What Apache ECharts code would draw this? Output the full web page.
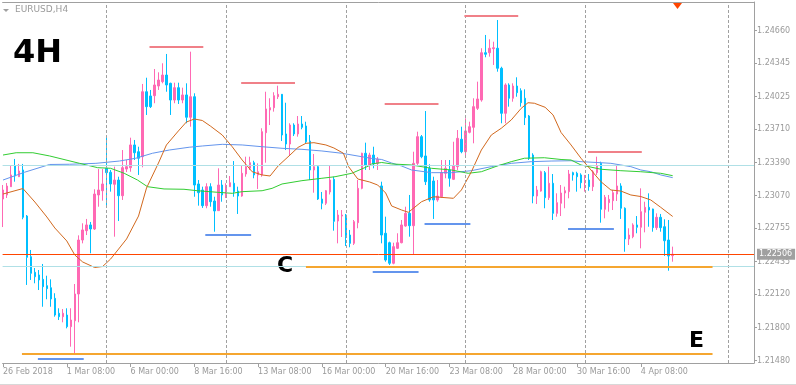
<!DOCTYPE html>
<html><head><meta charset="utf-8">
<script src="https://cdn.jsdelivr.net/npm/echarts@6/dist/echarts.min.js"></script>
<style>html,body{margin:0;padding:0;background:#fff;}#c{width:796px;height:385px;}</style>
</head><body><div id="c"></div>
<script>
// ---- data ----
const timeLabels = ['26 Feb 2018','1 Mar 08:00','6 Mar 00:00','8 Mar 16:00','13 Mar 08:00','16 Mar 00:00','20 Mar 16:00','23 Mar 08:00','28 Mar 00:00','30 Mar 16:00','4 Apr 08:00'];
const timeLabelBars = [0,16,32,48,64,80,96,112,128,144,160];
const priceTicks = [1.2148,1.218,1.2212,1.22435,1.22755,1.2307,1.2339,1.2371,1.24025,1.24345,1.2466];

const opens = [1.23038,1.23077,1.23157,1.23356,1.23253,1.23318,1.22874,1.22482,1.22332,1.22306,1.22264,1.22203,1.22183,1.22081,1.21937,1.21904,1.21920,1.21808,1.21865,1.22123,1.22643,1.22733,1.22788,1.22749,1.23077,1.23118,1.23334,1.23296,1.23180,1.23221,1.23070,1.23327,1.23340,1.23559,1.23494,1.23446,1.24072,1.24031,1.24034,1.24127,1.24169,1.24233,1.24153,1.23992,1.24111,1.23992,1.24041,1.23826,1.24024,1.23183,1.23125,1.22974,1.23157,1.23019,1.22926,1.23173,1.23067,1.23157,1.23190,1.23115,1.23067,1.23279,1.23334,1.23388,1.23270,1.23270,1.23677,1.23896,1.23918,1.24024,1.24047,1.23665,1.23568,1.23751,1.23665,1.23761,1.23742,1.23597,1.23318,1.23350,1.23038,1.22997,1.23106,1.23228,1.22826,1.22874,1.22884,1.22691,1.22611,1.22810,1.23141,1.23479,1.23366,1.23462,1.23382,1.23164,1.22708,1.22617,1.22419,1.22563,1.22617,1.22778,1.22900,1.22781,1.23382,1.23639,1.23453,1.23334,1.23212,1.23029,1.23060,1.23286,1.23318,1.23228,1.23350,1.23614,1.23494,1.23681,1.23729,1.23912,1.23992,1.24448,1.24448,1.24487,1.24491,1.24298,1.23864,1.24137,1.24009,1.24127,1.24082,1.24009,1.23838,1.23462,1.23067,1.23115,1.23292,1.23051,1.23190,1.22900,1.22997,1.23096,1.23109,1.23292,1.23286,1.23270,1.23195,1.23221,1.23157,1.23292,1.23382,1.22939,1.23003,1.23022,1.23086,1.23164,1.22949,1.22653,1.22675,1.22788,1.22766,1.22910,1.22958,1.22942,1.22762,1.22862,1.22771,1.22643,1.22492];
const closes = [1.23125,1.23163,1.23270,1.23260,1.23308,1.22862,1.22476,1.22322,1.22289,1.22258,1.22193,1.22174,1.22075,1.21920,1.21904,1.21937,1.21808,1.21872,1.22123,1.22643,1.22740,1.22788,1.22749,1.23086,1.23125,1.23183,1.23292,1.23183,1.23221,1.23070,1.23340,1.23350,1.23559,1.23484,1.23431,1.24072,1.23928,1.23928,1.24137,1.24185,1.24233,1.24137,1.23992,1.24111,1.23992,1.24041,1.23826,1.24024,1.23173,1.23099,1.22974,1.23157,1.23012,1.22923,1.23173,1.23077,1.23166,1.23195,1.23109,1.23067,1.23286,1.23350,1.23388,1.23270,1.23301,1.23687,1.23906,1.23918,1.24034,1.24047,1.23655,1.23568,1.23751,1.23665,1.23761,1.23729,1.23590,1.23318,1.23350,1.23038,1.22997,1.23118,1.23221,1.22823,1.22884,1.22884,1.22675,1.22611,1.22820,1.23141,1.23479,1.23366,1.23462,1.23376,1.23421,1.22691,1.22450,1.22419,1.22579,1.22617,1.22788,1.22900,1.22781,1.23382,1.23639,1.23446,1.23205,1.23029,1.23029,1.23067,1.23292,1.23334,1.23238,1.23359,1.23623,1.23494,1.23694,1.23735,1.23928,1.24002,1.24448,1.24433,1.24491,1.24496,1.24298,1.23864,1.24137,1.24009,1.24127,1.24063,1.23966,1.23822,1.23431,1.23067,1.23125,1.23301,1.23051,1.23190,1.22900,1.23003,1.23096,1.23118,1.23279,1.23270,1.23253,1.23195,1.23215,1.23157,1.23301,1.23356,1.22939,1.23055,1.23035,1.23099,1.23164,1.22949,1.22653,1.22691,1.22788,1.22766,1.22916,1.22958,1.22932,1.22762,1.22862,1.22762,1.22636,1.22489,1.22506];
const lows = [1.22768,1.23048,1.23154,1.23205,1.23250,1.22843,1.22210,1.22258,1.22226,1.22161,1.22000,1.22072,1.22000,1.21904,1.21872,1.21850,1.21792,1.21615,1.21550,1.21850,1.22611,1.22691,1.22515,1.22740,1.22964,1.23022,1.22980,1.23109,1.22675,1.22826,1.23029,1.23298,1.23301,1.23414,1.23270,1.23344,1.23848,1.23915,1.23961,1.24089,1.24153,1.24072,1.23848,1.23961,1.23954,1.23961,1.23768,1.23735,1.23060,1.22974,1.22952,1.22949,1.22964,1.22723,1.22923,1.23012,1.23048,1.23154,1.23060,1.22894,1.23060,1.23253,1.23318,1.23238,1.23135,1.23253,1.23388,1.23751,1.23880,1.24002,1.23597,1.23510,1.23462,1.23645,1.23639,1.23710,1.23575,1.23221,1.23099,1.23029,1.22939,1.22980,1.23082,1.22733,1.22611,1.22672,1.22585,1.22573,1.22595,1.22756,1.23132,1.23318,1.23318,1.23334,1.23318,1.22611,1.22434,1.22402,1.22409,1.22556,1.22611,1.22771,1.22675,1.22499,1.23366,1.23431,1.23173,1.23012,1.22846,1.23012,1.23051,1.23238,1.23157,1.23221,1.23318,1.23479,1.23462,1.23671,1.23575,1.23896,1.23976,1.24404,1.24410,1.24330,1.24265,1.23768,1.23768,1.23928,1.23976,1.24024,1.23928,1.23751,1.23414,1.22997,1.22990,1.23109,1.22949,1.23029,1.22836,1.22868,1.22874,1.22949,1.23045,1.23215,1.23109,1.23141,1.23109,1.23118,1.23115,1.23270,1.22810,1.22852,1.22916,1.22932,1.23019,1.22846,1.22530,1.22595,1.22660,1.22708,1.22563,1.22717,1.22771,1.22723,1.22740,1.22723,1.22489,1.22347,1.22434];
const highs = [1.23173,1.23192,1.23356,1.23424,1.23376,1.23376,1.22884,1.22547,1.22373,1.22354,1.22412,1.22299,1.22264,1.22130,1.21985,1.21978,1.21985,1.21985,1.22219,1.22688,1.22804,1.22846,1.22817,1.23132,1.23327,1.23327,1.23648,1.23318,1.23350,1.23253,1.23510,1.23414,1.23629,1.23607,1.23542,1.24147,1.24207,1.24089,1.24291,1.24259,1.24346,1.24436,1.24159,1.24159,1.24159,1.24111,1.24153,1.24458,1.24057,1.23221,1.23157,1.23190,1.23190,1.23060,1.23334,1.23221,1.23190,1.23260,1.23404,1.23157,1.23356,1.23446,1.23446,1.23407,1.23382,1.23720,1.24072,1.24009,1.24067,1.24130,1.24050,1.23966,1.23768,1.23768,1.23838,1.23838,1.23783,1.23655,1.23472,1.23356,1.23106,1.23125,1.23356,1.23253,1.22932,1.22932,1.22894,1.22740,1.22836,1.23221,1.23484,1.23581,1.23484,1.23542,1.23443,1.23205,1.22868,1.22627,1.22617,1.22708,1.22836,1.22964,1.23077,1.23494,1.23687,1.23655,1.23886,1.23373,1.23253,1.23221,1.23414,1.23414,1.23414,1.23590,1.23703,1.23735,1.23816,1.23783,1.24009,1.24169,1.24491,1.24619,1.24577,1.24554,1.24763,1.24313,1.24153,1.24153,1.24153,1.24211,1.24105,1.24095,1.23848,1.23479,1.23164,1.23311,1.23308,1.23350,1.23279,1.23093,1.23173,1.23157,1.23318,1.23301,1.23301,1.23286,1.23270,1.23279,1.23318,1.23446,1.23398,1.23077,1.23077,1.23125,1.23359,1.23190,1.22958,1.22756,1.22804,1.22874,1.23141,1.23012,1.23093,1.22945,1.22900,1.22894,1.22843,1.22836,1.22579];

// moving averages, [bar, price]
const maOrange = [[0,1.23086],[5,1.23139],[8,1.23009],[11,1.22865],[13,1.22759],[16,1.22634],[18,1.22499],[20,1.22431],[23,1.22378],[25,1.22388],[27,1.22460],[29,1.22556],[31,1.22653],[34,1.22874],[36,1.23144],[39,1.23385],[41,1.23559],[44,1.23694],[46,1.23780],[48,1.23809],[50,1.23795],[52,1.23742],[55,1.23655],[57.5,1.23542],[60,1.23414],[62.5,1.23301],[65,1.23270],[67,1.23260],[69,1.23356],[72,1.23462],[74,1.23535],[76,1.23575],[78,1.23581],[81,1.23559],[83,1.23530],[85.4,1.23479],[86.7,1.23350],[89,1.23231],[92,1.23202],[94,1.23173],[96,1.23096],[97.5,1.22971],[100,1.22932],[101.7,1.22910],[105,1.23012],[108,1.23060],[113,1.23045],[115,1.23125],[117.5,1.23301],[120,1.23510],[122.5,1.23655],[125,1.23720],[127.5,1.23800],[130,1.23912],[131.7,1.23966],[133.3,1.23961],[136,1.23922],[138,1.23848],[140,1.23679],[142.5,1.23559],[145,1.23431],[147.5,1.23318],[150,1.23205],[152.5,1.23125],[155,1.23115],[157.5,1.23077],[160,1.23062],[162.5,1.23029],[165,1.22958],[168,1.22870]];
const maBlue = [[0,1.23221],[5.4,1.23296],[11.7,1.23371],[16.7,1.23373],[23.3,1.23382],[29.2,1.23404],[33.3,1.23431],[37.5,1.23479],[41.7,1.23510],[46.7,1.23537],[50,1.23549],[55,1.23565],[60,1.23559],[65,1.23542],[70,1.23527],[75,1.23517],[80,1.23501],[85,1.23479],[90,1.23446],[92.5,1.23429],[95,1.23419],[97.5,1.23385],[100,1.23356],[102.5,1.23318],[107.5,1.23292],[112.5,1.23292],[117.5,1.23311],[122.5,1.23350],[127.5,1.23382],[132.5,1.23398],[137.5,1.23404],[142.5,1.23407],[145,1.23398],[150,1.23388],[152.5,1.23382],[155,1.23366],[157.5,1.23350],[160,1.23318],[162.5,1.23301],[165,1.23270],[168,1.23244]];
const maGreen = [[0,1.23462],[3.3,1.23484],[7.5,1.23484],[11.7,1.23453],[19.2,1.23382],[23.75,1.23340],[27,1.23334],[30.4,1.23286],[33.75,1.23221],[36.25,1.23157],[40.4,1.23135],[45.4,1.23132],[48.75,1.23118],[53.75,1.23103],[57.5,1.23093],[60,1.23109],[65,1.23118],[67.5,1.23141],[70,1.23183],[75,1.23215],[80,1.23238],[83.3,1.23253],[87.5,1.23286],[91.7,1.23356],[92.5,1.23376],[95,1.23390],[97.5,1.23376],[102.5,1.23366],[107.5,1.23334],[112.5,1.23318],[116.7,1.23286],[120,1.23301],[124.2,1.23359],[127.5,1.23398],[130.8,1.23431],[135.8,1.23436],[140,1.23419],[142.5,1.23414],[145,1.23366],[150,1.23325],[155,1.23311],[160,1.23301],[165,1.23286],[168,1.23263]];

// annotations: [fromBar, toBar, price]
const resistances = [[36.75,50.25,1.24506],[59.75,73.25,1.24159],[95.75,109.25,1.23957],[115.75,129.25,1.24805],[146.75,160.25,1.23491]];
const supports = [[8.75,20.25,1.21499],[50.75,62.25,1.22694],[92.75,104.25,1.22338],[105.75,117.25,1.22800],[141.75,153.25,1.22752]];
const levelC = [76, 178, 1.22386];
const levelE = [4.75, 178, 1.21547];
const hLevels = [1.23366, 1.22390];
const bidPrice = 1.22506;
const gridBars = [26, 56, 86, 116, 146, 182];

// ---- chart ----
const XMIN = -0.1, XMAX = 188.4, YMIN = 1.214578, YMAX = 1.249367;
const gray = '#a0a0a0';
const candles = opens.map((o, i) => [i, o, closes[i], lows[i], highs[i]]);
const seg = (arr) => arr.map(s => [{coord: [s[0], s[2]]}, {coord: [s[1], s[2]]}]);
const ml = (extra) => Object.assign({silent: true, symbol: ['none','none'], precision: 5, label: {show: false}, animation: false}, extra);

const chart = echarts.init(document.getElementById('c'), null, {renderer: 'canvas'});
chart.setOption({
  animation: false,
  backgroundColor: '#ffffff',
  grid: {left: 0, right: 42, top: 2, bottom: 22},
  xAxis: [{
    type: 'value', min: XMIN, max: XMAX, position: 'bottom',
    axisLine: {show: true, onZero: false, lineStyle: {color: gray, width: 1}},
    axisTick: {show: true, customValues: timeLabelBars, length: 4, lineStyle: {color: gray}},
    axisLabel: {customValues: timeLabelBars, formatter: v => timeLabels[timeLabelBars.indexOf(v)] || '',
      align: 'left', color: '#9a9a9a', fontSize: 8, fontFamily: 'DejaVu Sans', margin: 5},
    splitLine: {show: false}
  }, {
    type: 'value', min: XMIN, max: XMAX, position: 'top',
    axisLine: {show: true, onZero: false, lineStyle: {color: gray, width: 1}},
    axisTick: {show: false}, axisLabel: {show: false}, splitLine: {show: false}
  }],
  yAxis: {
    type: 'value', min: YMIN, max: YMAX, position: 'right',
    axisLine: {show: true, onZero: false, lineStyle: {color: gray, width: 1}},
    axisTick: {show: true, customValues: priceTicks, length: 3, lineStyle: {color: gray}},
    axisLabel: {customValues: priceTicks, formatter: v => v.toFixed(5), color: '#9a9a9a',
      fontSize: 8, fontFamily: 'DejaVu Sans', margin: 3},
    splitLine: {show: false}
  },
  series: [
    { type: 'line', data: [], z: 1, silent: true,
      markLine: ml({lineStyle: {color: gray, type: [3, 2], width: 1}, data: gridBars.map(b => ({xAxis: b}))}) },
    { type: 'line', data: [], z: 1, silent: true,
      markLine: ml({lineStyle: {color: '#b0e0e6', type: 'solid', width: 1}, data: hLevels.map(p => ({yAxis: p}))}) },
    { type: 'candlestick', data: candles, barWidth: 2, z: 3,
      itemStyle: {color: '#ff69b4', color0: '#00bfff', borderColor: '#ff69b4', borderColor0: '#00bfff', borderWidth: 1} },
    { type: 'line', data: maBlue, showSymbol: false, z: 4, lineStyle: {color: '#6495ed', width: 1} },
    { type: 'line', data: maGreen, showSymbol: false, z: 4, lineStyle: {color: '#32cd32', width: 1} },
    { type: 'line', data: maOrange, showSymbol: false, z: 4, lineStyle: {color: '#d2691e', width: 1} },
    { type: 'line', data: [], z: 5, silent: true,
      markLine: ml({lineStyle: {color: '#ff4500', type: 'solid', width: 1},
        data: [{yAxis: bidPrice, label: {show: true, position: 'end', distance: 3, formatter: bidPrice.toFixed(5),
          backgroundColor: '#a0a0a0', color: '#ffffff', fontSize: 8, fontFamily: 'DejaVu Sans', padding: [2, 3, 1, 2]}}]}) },
    { type: 'line', data: [], z: 5, silent: true,
      markLine: ml({lineStyle: {color: '#f5a630', type: 'solid', width: 2}, data: seg([levelC, levelE])}) },
    { type: 'line', data: [], z: 5, silent: true,
      markLine: ml({lineStyle: {color: '#f08088', type: 'solid', width: 2}, data: seg(resistances)}) },
    { type: 'line', data: [], z: 5, silent: true,
      markLine: ml({lineStyle: {color: '#6495ed', type: 'solid', width: 2}, data: seg(supports)}) }
  ],
  graphic: [
    {type: 'polygon', shape: {points: [[3, 9], [9, 9], [6, 12]]}, style: {fill: '#a0a0a0'}},
    {type: 'text', left: 15, top: 5, style: {text: 'EURUSD,H4', fill: '#9a9a9a', font: '9px "DejaVu Sans"'}},
    {type: 'text', x: 13, y: 53.5, style: {text: '4H', fill: '#000', font: 'bold 32px "DejaVu Sans"', textVerticalAlign: 'middle'}},
    {type: 'text', x: 277, y: 266, style: {text: 'C', fill: '#000', font: 'bold 22px "DejaVu Sans"', textVerticalAlign: 'middle'}},
    {type: 'text', x: 689, y: 341, style: {text: 'E', fill: '#000', font: 'bold 22px "DejaVu Sans"', textVerticalAlign: 'middle'}},
    {type: 'polygon', shape: {points: [[673, 3], [682, 3], [677.5, 9]]}, style: {fill: '#ff4500'}},
    {type: 'line', shape: {x1: 0, y1: 384.5, x2: 796, y2: 384.5}, style: {stroke: '#d8d8d8', lineWidth: 1}}
  ]
});
</script></body></html>
